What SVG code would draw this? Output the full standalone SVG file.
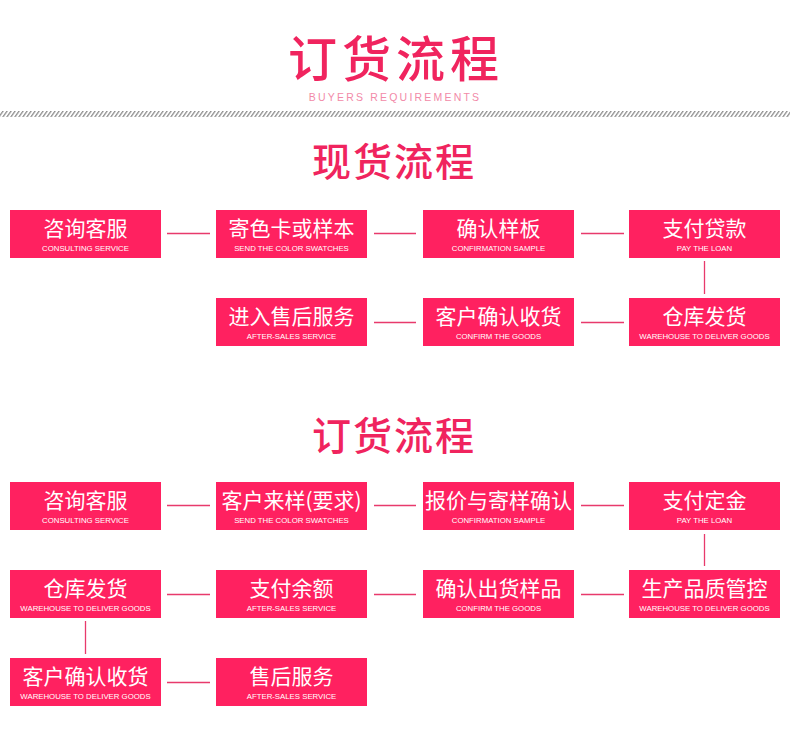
<svg xmlns="http://www.w3.org/2000/svg" width="790" height="742" viewBox="0 0 790 742">
<defs>
<pattern id="hatch" width="4" height="6" patternUnits="userSpaceOnUse" patternTransform="skewX(-35)">
<rect x="0" y="0" width="1.6" height="6" fill="#8f8f8f"/>
</pattern>
<style>
.box{fill:#ff2160}
.cn{font-family:"Noto Sans CJK SC","Noto Sans",sans-serif;font-size:21px;fill:#ffffff;text-anchor:middle}
.en{font-family:"Liberation Sans","Noto Sans CJK SC",sans-serif;font-size:7.8px;fill:#ffffff;text-anchor:middle}
.ttl{font-family:"Noto Sans CJK SC",sans-serif;fill:#f0245e;text-anchor:middle;font-weight:500}
.ln{stroke:#e83a6c;stroke-width:1.3;fill:none}
</style>
</defs>
<rect width="790" height="742" fill="#ffffff"/>
<g id="header">
<text class="ttl" x="396" y="77" font-size="49" letter-spacing="5">订货流程</text>
<text x="395" y="101" font-family="Liberation Sans,sans-serif" font-size="10.5" fill="#f28aa8" text-anchor="middle" letter-spacing="2.2">BUYERS REQUIREMENTS</text>
<rect x="0" y="111" width="790" height="6" fill="url(#hatch)"/>
</g>
<text class="ttl" x="394" y="176" font-size="39" letter-spacing="2">现货流程</text>
<text class="ttl" x="394" y="450" font-size="39" letter-spacing="2">订货流程</text>
<g id="connectors">
<line class="ln" x1="167" y1="233.5" x2="210" y2="233.5"/>
<line class="ln" x1="374" y1="233.5" x2="416" y2="233.5"/>
<line class="ln" x1="581" y1="233.5" x2="624" y2="233.5"/>
<line class="ln" x1="704.5" y1="261" x2="704.5" y2="294"/>
<line class="ln" x1="581" y1="322.5" x2="624" y2="322.5"/>
<line class="ln" x1="374" y1="322.5" x2="416" y2="322.5"/>
<line class="ln" x1="167" y1="505.5" x2="210" y2="505.5"/>
<line class="ln" x1="374" y1="505.5" x2="416" y2="505.5"/>
<line class="ln" x1="581" y1="505.5" x2="624" y2="505.5"/>
<line class="ln" x1="704.5" y1="534" x2="704.5" y2="566"/>
<line class="ln" x1="581" y1="594.5" x2="624" y2="594.5"/>
<line class="ln" x1="374" y1="594.5" x2="416" y2="594.5"/>
<line class="ln" x1="167" y1="594.5" x2="210" y2="594.5"/>
<line class="ln" x1="85.5" y1="621" x2="85.5" y2="654"/>
<line class="ln" x1="167" y1="682.5" x2="210" y2="682.5"/>
</g>
<g id="s1-consult"><rect class="box" x="10" y="210" width="151" height="48"/><text class="cn" x="85.5" y="236">咨询客服</text><text class="en" x="85.5" y="251">CONSULTING SERVICE</text></g>
<g id="s1-swatch"><rect class="box" x="216" y="210" width="151" height="48"/><text class="cn" x="291.5" y="236">寄色卡或样本</text><text class="en" x="291.5" y="251">SEND THE COLOR SWATCHES</text></g>
<g id="s1-confirm"><rect class="box" x="423" y="210" width="151" height="48"/><text class="cn" x="498.5" y="236">确认样板</text><text class="en" x="498.5" y="251">CONFIRMATION SAMPLE</text></g>
<g id="s1-pay"><rect class="box" x="629" y="210" width="151" height="48"/><text class="cn" x="704.5" y="236">支付贷款</text><text class="en" x="704.5" y="251">PAY THE LOAN</text></g>
<g id="s1-after"><rect class="box" x="216" y="298" width="151" height="48"/><text class="cn" x="291.5" y="324">进入售后服务</text><text class="en" x="291.5" y="339">AFTER-SALES SERVICE</text></g>
<g id="s1-receive"><rect class="box" x="423" y="298" width="151" height="48"/><text class="cn" x="498.5" y="324">客户确认收货</text><text class="en" x="498.5" y="339">CONFIRM THE GOODS</text></g>
<g id="s1-ship"><rect class="box" x="629" y="298" width="151" height="48"/><text class="cn" x="704.5" y="324">仓库发货</text><text class="en" x="704.5" y="339">WAREHOUSE TO DELIVER GOODS</text></g>
<g id="s2-consult"><rect class="box" x="10" y="482" width="151" height="48"/><text class="cn" x="85.5" y="508">咨询客服</text><text class="en" x="85.5" y="523">CONSULTING SERVICE</text></g>
<g id="s2-sample"><rect class="box" x="216" y="482" width="151" height="48"/><text class="cn" x="291.5" y="508">客户来样(要求)</text><text class="en" x="291.5" y="523">SEND THE COLOR SWATCHES</text></g>
<g id="s2-quote"><rect class="box" x="423" y="482" width="151" height="48"/><text class="cn" x="498.5" y="508">报价与寄样确认</text><text class="en" x="498.5" y="523">CONFIRMATION SAMPLE</text></g>
<g id="s2-deposit"><rect class="box" x="629" y="482" width="151" height="48"/><text class="cn" x="704.5" y="508">支付定金</text><text class="en" x="704.5" y="523">PAY THE LOAN</text></g>
<g id="s2-qc"><rect class="box" x="629" y="570" width="151" height="48"/><text class="cn" x="704.5" y="596">生产品质管控</text><text class="en" x="704.5" y="611">WAREHOUSE TO DELIVER GOODS</text></g>
<g id="s2-goods"><rect class="box" x="423" y="570" width="151" height="48"/><text class="cn" x="498.5" y="596">确认出货样品</text><text class="en" x="498.5" y="611">CONFIRM THE GOODS</text></g>
<g id="s2-balance"><rect class="box" x="216" y="570" width="151" height="48"/><text class="cn" x="291.5" y="596">支付余额</text><text class="en" x="291.5" y="611">AFTER-SALES SERVICE</text></g>
<g id="s2-ship"><rect class="box" x="10" y="570" width="151" height="48"/><text class="cn" x="85.5" y="596">仓库发货</text><text class="en" x="85.5" y="611">WAREHOUSE TO DELIVER GOODS</text></g>
<g id="s2-receive"><rect class="box" x="10" y="658" width="151" height="48"/><text class="cn" x="85.5" y="684">客户确认收货</text><text class="en" x="85.5" y="699">WAREHOUSE TO DELIVER GOODS</text></g>
<g id="s2-after"><rect class="box" x="216" y="658" width="151" height="48"/><text class="cn" x="291.5" y="684">售后服务</text><text class="en" x="291.5" y="699">AFTER-SALES SERVICE</text></g>
</svg>
